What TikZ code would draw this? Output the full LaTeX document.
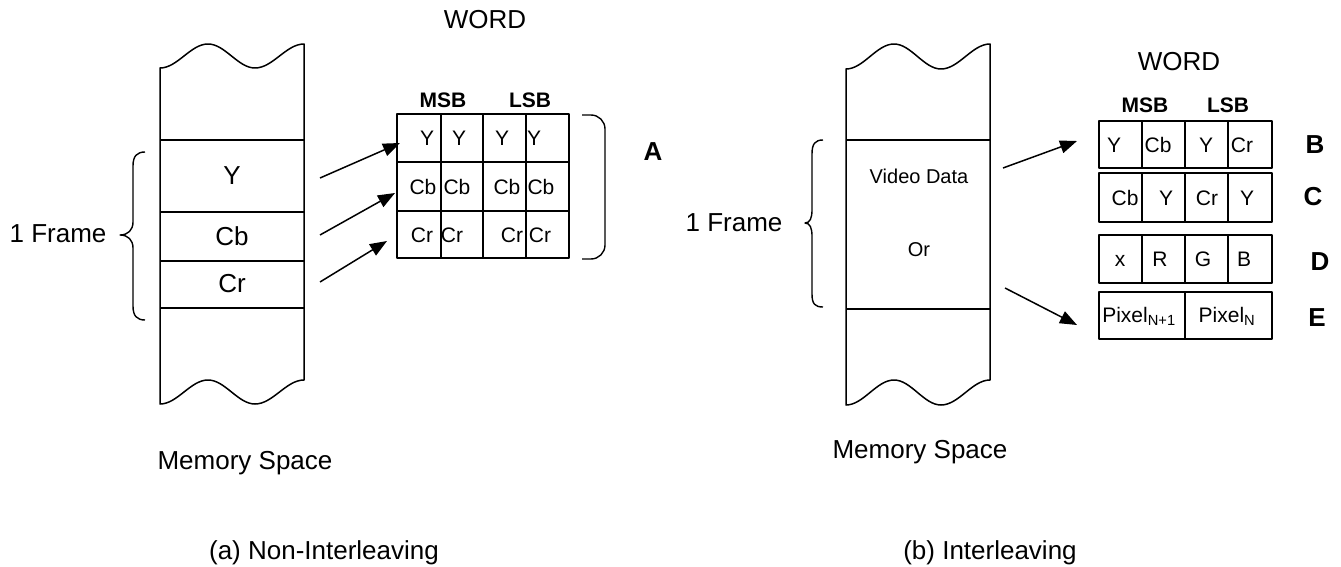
\documentclass[tikz,border=0pt]{standalone}
\usepackage{fontspec}
\setmainfont{Liberation Sans}
\usetikzlibrary{arrows.meta}
\begin{document}
\begin{tikzpicture}[x=1pt,y=-1pt, line width=1.5pt, line join=round,
 big/.style={font=\fontsize{26}{30}\selectfont, inner sep=0pt},
 mid/.style={font=\fontsize{20}{24}\selectfont, inner sep=0pt},
 small/.style={font=\fontsize{21}{24}\selectfont, inner sep=0pt},
 hdr/.style={font=\fontsize{21}{24}\selectfont\bfseries, inner sep=0pt},
 lab/.style={font=\fontsize{26}{30}\selectfont\bfseries, inner sep=0pt},
 bracestyle/.style={line width=1.4pt},
 arr/.style={-{Triangle[length=17pt,width=13pt]}, line width=1.5pt}]
\useasboundingbox (0,0) rectangle (1341,567);

% ---------- left memory column ----------
\draw (160,68) cos (184,56) sin (208,44) cos (231.5,56) sin (255,68) cos (279.5,56) sin (304,44)
  -- (304,380) cos (279.5,392) sin (255,404) cos (231.5,392) sin (208,380) cos (184,392) sin (160,404) -- cycle;
\foreach \y in {140,212,261,308} \draw (160,\y) -- (304,\y);
\node[big] (ly) at (232,176) {Y};
\node[big] (lcb) at (232,236) {Cb};
\node[big] (lcr) at (232,284) {Cr};
\node[big] (lmem) at (245,463) {Memory Space};
\node[big] (lcap) at (324,553) {(a) Non-Interleaving};

% left brace
\draw[bracestyle] (145,152) .. controls (137,152) and (133,156) .. (133,166) -- (133,222)
  .. controls (133,230) and (128,235) .. (120,235)
  .. controls (128,235) and (133,240) .. (133,248) -- (133,306)
  .. controls (133,316) and (137,320) .. (145,320);
\node[big] (lframe) at (58,234) {1 Frame};

% ---------- left word table ----------
\node[big] (lword) at (485,20) {WORD};
\node[hdr] (lmsb) at (443,100) {MSB};
\node[hdr] (llsb) at (530,100) {LSB};
\draw (397,114) rectangle (569,258);
\foreach \x in {441,483,526} \draw (\x,114) -- (\x,258);
\foreach \y in {162,211} \draw (397,\y) -- (569,\y);
\node[small] (t11) at (427,138) {Y};
\node[small] (t12) at (459,138) {Y};
\node[small] (t13) at (502,138) {Y};
\node[small] (t14) at (534,138) {Y};
\node[small] (t21) at (423,187) {Cb};
\node[small] (t22) at (457,187) {Cb};
\node[small] (t23) at (507,187) {Cb};
\node[small] (t24) at (541,187) {Cb};
\node[small] (t31) at (422,235) {Cr};
\node[small] (t32) at (452,235) {Cr};
\node[small] (t33) at (512,235) {Cr};
\node[small] (t34) at (540,235) {Cr};

% bracket A
\draw[bracestyle, rounded corners=14pt] (582,115) -- (605,115) -- (605,259) -- (582,259);
\node[lab] (la) at (653,152) {A};

% left arrows
\coordinate (ls1) at (320,178);
\coordinate (ls2) at (320,235);
\coordinate (ls3) at (320,282);
\coordinate (le1) at (400,143);
\coordinate (le2) at (395,193);
\coordinate (le3) at (387,241);
\draw[arr] (ls1) -- (le1);
\draw[arr] (ls2) -- (le2);
\draw[arr] (ls3) -- (le3);

% ---------- right memory column ----------
\begin{scope}[shift={(686,0)}]
\draw (160,69) cos (184,56.5) sin (208,44) cos (231.5,56.5) sin (255,69) cos (279.5,56.5) sin (304,44)
  -- (304,380) cos (279.5,392.5) sin (255,405) cos (231.5,392.5) sin (208,380) cos (184,392.5) sin (160,405) -- cycle;
\draw (160,140) -- (304,140);
\draw (160,309) -- (304,309);
\end{scope}
\node[mid] (vd) at (919,176) {Video Data};
\node[mid] (vor) at (919,250) {Or};
\node[big] (rmem) at (920,452) {Memory Space};
\node[big] (rcap) at (990,553) {(b) Interleaving};

% right brace
\draw[bracestyle] (823,140) .. controls (815,140) and (812,144) .. (812,154) -- (812,210)
  .. controls (812,218) and (810,223) .. (805,223)
  .. controls (810,223) and (812,228) .. (812,236) -- (812,294)
  .. controls (812,304) and (815,307) .. (823,307);
\node[big] (rframe) at (734,223) {1 Frame};

% ---------- right word tables ----------
\node[big] (rword) at (1179,62) {WORD};
\node[hdr] (rmsb) at (1145,105) {MSB};
\node[hdr] (rlsb) at (1228,105) {LSB};

\draw (1099,121) rectangle (1272,168);
\foreach \x in {1142,1185,1228} \draw (\x,121) -- (\x,168);
\draw (1099,173) rectangle (1272,222);
\foreach \x in {1142,1185,1228} \draw (\x,173) -- (\x,222);
\draw (1099,235) rectangle (1272,283);
\foreach \x in {1142,1185,1228} \draw (\x,235) -- (\x,283);
\draw (1099,292) rectangle (1272,339);
\draw (1185,292) -- (1185,339);

\node[small] (b1) at (1114,145) {Y};
\node[small] (b2) at (1158,145) {Cb};
\node[small] (b3) at (1206,145) {Y};
\node[small] (b4) at (1242,145) {Cr};
\node[small] (c1) at (1125,198) {Cb};
\node[small] (c2) at (1166,198) {Y};
\node[small] (c3) at (1207,198) {Cr};
\node[small] (c4) at (1247,198) {Y};
\node[small] (d1) at (1120,261) {x};
\node[small] (d2) at (1160,259) {R};
\node[small] (d3) at (1203,259) {G};
\node[small] (d4) at (1244,259) {B};
\node[small] (e1) at (1139,316) {Pixel\textsubscript{N+1}};
\node[small] (e2) at (1227,316) {Pixel\textsubscript{N}};

\node[lab] (rb) at (1315,145) {B};
\node[lab] (rc) at (1313,197) {C};
\node[lab] (rd) at (1320,262) {D};
\node[lab] (re) at (1317,318) {E};

% right arrows
\coordinate (rs1) at (1003,168);
\coordinate (rs2) at (1005,288);
\coordinate (re1) at (1077,141);
\coordinate (re2) at (1077,325);
\draw[arr] (rs1) -- (re1);
\draw[arr] (rs2) -- (re2);
\end{tikzpicture}
\end{document}
